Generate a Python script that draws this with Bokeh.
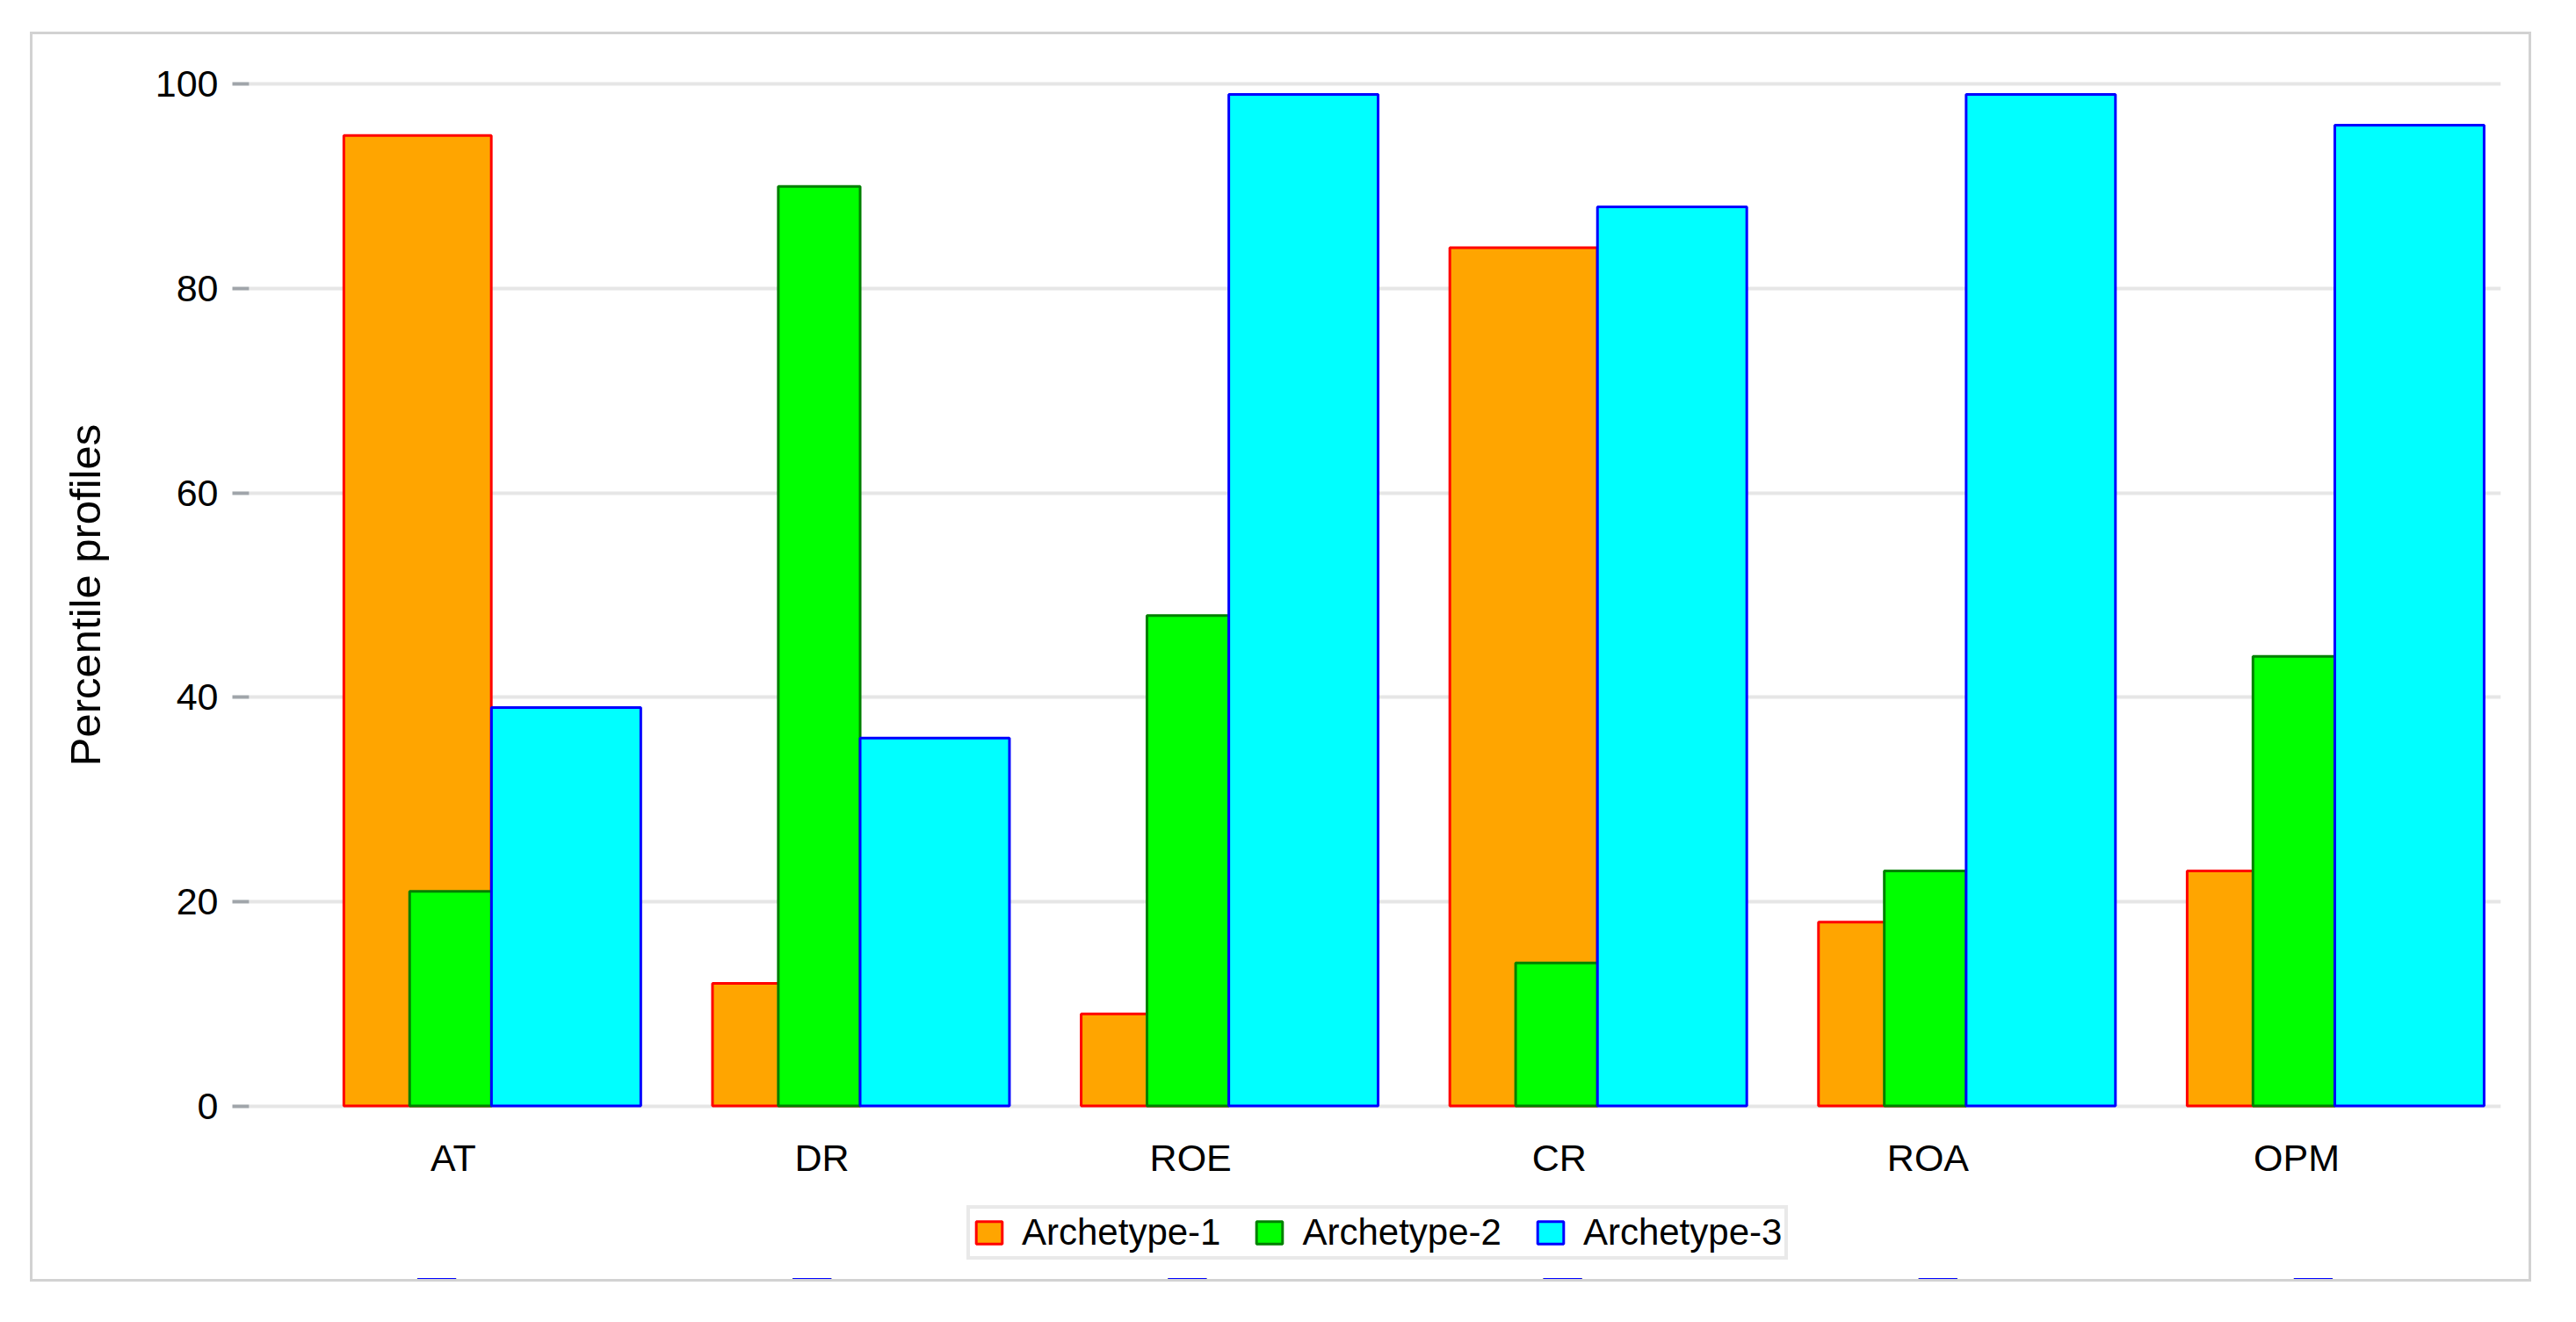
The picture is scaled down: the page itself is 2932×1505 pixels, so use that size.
from bokeh.plotting import figure
from bokeh.layouts import column
from bokeh.models import (ColumnDataSource, FactorRange, Range1d, FixedTicker,
                          Legend, LegendItem)
from bokeh.transform import dodge
from bokeh.embed import file_html
from bokeh.resources import INLINE

# ---- data ----
categories = ["AT", "DR", "ROE", "CR", "ROA", "OPM"]
archetype_1 = [95, 12, 9, 84, 18, 23]
archetype_2 = [21, 90, 48, 14, 23, 44]
archetype_3 = [39, 36, 99, 88, 99, 96]
series_names = ["Archetype-1", "Archetype-2", "Archetype-3"]
y_ticks = [0, 20, 40, 60, 80, 100]
y_label = "Percentile profiles"

FONT = "Liberation Sans"
STYLES = [
    dict(fill_color="#FFA500", line_color="#FF0000"),
    dict(fill_color="#00FF00", line_color="#008000"),
    dict(fill_color="#00FFFF", line_color="#0000FF"),
]
FIELDS = ["a1", "a2", "a3"]

src = ColumnDataSource(dict(cat=categories, a1=archetype_1, a2=archetype_2, a3=archetype_3))

W = 2841
H_MAIN, H_LEG = 1313, 104

p = figure(
    x_range=FactorRange(factors=categories, range_padding=0.054, range_padding_units="absolute"),
    y_range=Range1d(-0.3, 100.3),
    width=W, height=H_MAIN,
    output_backend="svg", toolbar_location=None,
    min_border_left=246, min_border_right=32, min_border_top=53, min_border_bottom=90,
)
p.background_fill_color = "white"
p.border_fill_color = "white"
p.outline_line_color = None

p.vbar(x=dodge("cat", -0.097, range=p.x_range), top="a1", bottom=0, width=0.40, source=src,
       line_width=3, **STYLES[0])
p.vbar(x=dodge("cat", -0.0075, range=p.x_range), top="a2", bottom=0, width=0.222, source=src,
       line_width=3, **STYLES[1])
p.vbar(x=dodge("cat", 0.306, range=p.x_range), top="a3", bottom=0, width=0.405, source=src,
       line_width=3, **STYLES[2])

# grid
p.xgrid.grid_line_color = None
p.ygrid.grid_line_color = "#e6e6e6"
p.ygrid.grid_line_width = 4
p.yaxis.ticker = FixedTicker(ticks=y_ticks)

# y axis
p.yaxis.axis_line_color = None
p.yaxis.major_tick_in = 0
p.yaxis.major_tick_out = 19
p.yaxis.major_tick_line_color = "#a0a5aa"
p.yaxis.major_tick_line_width = 4
p.yaxis.minor_tick_line_color = None
p.yaxis.major_label_standoff = 16
p.yaxis.major_label_text_font = FONT
p.yaxis.major_label_text_font_size = "43px"
p.yaxis.major_label_text_color = "black"
p.yaxis.axis_label = y_label
p.yaxis.axis_label_text_font = FONT
p.yaxis.axis_label_text_font_size = "49px"
p.yaxis.axis_label_text_font_style = "normal"
p.yaxis.axis_label_text_color = "black"
p.yaxis.axis_label_standoff = 50

# x axis
p.xaxis.axis_line_color = None
p.xaxis.major_tick_line_color = None
p.xaxis.minor_tick_line_color = None
p.xaxis.major_label_standoff = 25
p.xaxis.major_label_text_font = FONT
p.xaxis.major_label_text_font_size = "43px"
p.xaxis.major_label_text_color = "black"

# ---- legend strip below the chart (proxy renderers sit outside its visible range) ----
pl = figure(width=W, height=H_LEG,
            x_range=FactorRange(factors=categories), y_range=Range1d(200, 201),
            x_axis_type=None, y_axis_type=None,
            output_backend="svg", toolbar_location=None,
            min_border_left=0, min_border_right=0, min_border_top=0, min_border_bottom=0)
pl.background_fill_color = "white"
pl.border_fill_color = "white"
pl.outline_line_color = None
pl.xgrid.visible = False
pl.ygrid.visible = False

items = []
for name, st, fld in zip(series_names, STYLES, FIELDS):
    r = pl.vbar(x="cat", top=fld, bottom=0, width=0.1, source=src, line_width=3, **st)
    items.append(LegendItem(label=name, renderers=[r]))

legend = Legend(items=items, orientation="horizontal", location=(817, 22))
legend.label_text_font = FONT
legend.label_text_font_size = "42px"
legend.label_text_color = "black"
legend.glyph_width = 37
legend.glyph_height = 32
legend.label_standoff = 19
legend.spacing = 37
legend.padding = 3
legend.margin = 0
legend.border_line_color = "#d4d4d4"
legend.border_line_width = 4
legend.background_fill_color = "white"
pl.add_layout(legend)

layout = column(p, pl, spacing=0)
layout.margin = (36, 0, 0, 34)
layout.styles = {"border": "3px solid #d2d2d2", "background-color": "white"}

open("out.html", "w").write(file_html(layout, INLINE))
